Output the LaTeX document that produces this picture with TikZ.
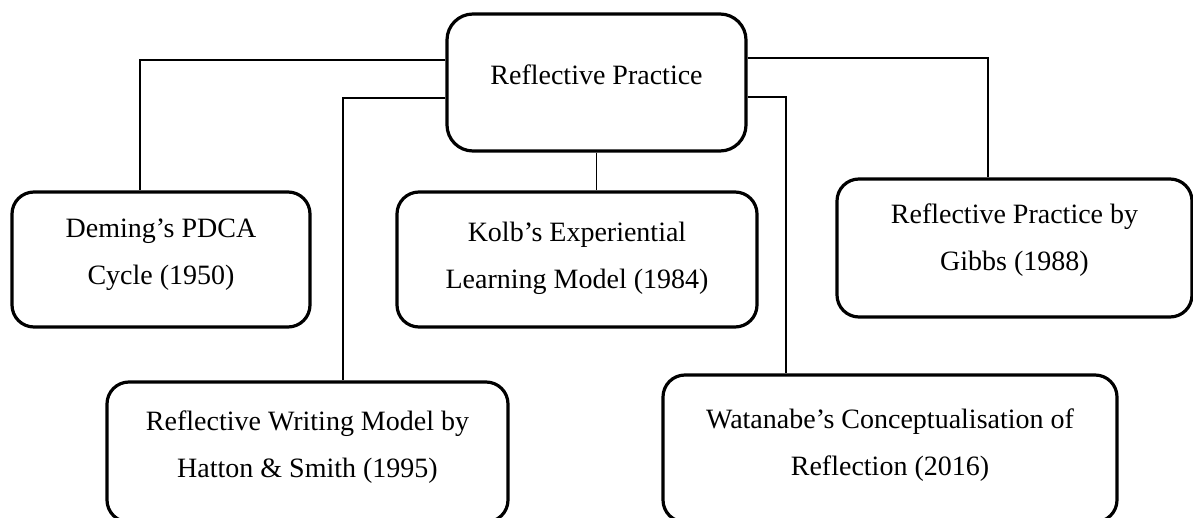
\documentclass[tikz,border=0pt]{standalone}
\usepackage{fontspec}
\setmainfont{Liberation Serif}
\begin{document}
\begin{tikzpicture}[x=1pt,y=-1pt,
  boxnode/.style={draw=black, line width=3.2pt, rounded corners=22pt, inner sep=0pt, fill=white},
  txt/.style={font=\fontsize{28}{47}\selectfont, align=center, inner sep=0pt},
  link/.style={draw=black, line width=1.6pt}]
\useasboundingbox (0,0) rectangle (1193,518);
\begin{scope}
\clip (0,0) rectangle (1193,518);
% boxes
\node[boxnode, minimum width=299pt, minimum height=137pt, rounded corners=26pt] (top) at (596.5,82.5) {};
\node[boxnode, minimum width=298pt, minimum height=135pt] (dem) at (161,259.5) {};
\node[boxnode, minimum width=360pt, minimum height=135pt] (kolb) at (577,259.5) {};
\node[boxnode, minimum width=355pt, minimum height=138pt] (gibbs) at (1014.5,248) {};
\node[boxnode, minimum width=401pt, minimum height=140pt] (hat) at (307.5,452) {};
\node[boxnode, minimum width=454pt, minimum height=147pt] (wat) at (890,448.5) {};
% texts
\node[txt, anchor=base] (ttop) at (596.5,85) {Reflective Practice};
\node[txt] (tdem) at (161,255) {Deming’s PDCA\\Cycle (1950)};
\node[txt] (tkolb) at (577,258) {Kolb’s Experiential\\Learning Model (1984)};
\node[txt] (tgibbs) at (1014.5,240) {Reflective Practice by\\Gibbs (1988)};
\node[txt] (that) at (307.5,447) {Reflective Writing Model by\\Hatton \& Smith (1995)};
\node[txt] (twat) at (890,445) {Watanabe’s Conceptualisation of\\Reflection (2016)};
\end{scope}
% connectors
\draw[link] ([yshift=22.5pt]top.west) -| ([xshift=-21pt]dem.north);
\draw[link] ([yshift=-15.5pt]top.west) -| ([xshift=35.5pt]hat.north);
\draw[link] (top.south) -- (top.south |- kolb.north);
\draw[link] ([yshift=24.5pt]top.east) -| ([xshift=-26.5pt]gibbs.north);
\draw[link] ([yshift=-14.5pt]top.east) -| ([xshift=-104pt]wat.north);
\end{tikzpicture}
\end{document}
